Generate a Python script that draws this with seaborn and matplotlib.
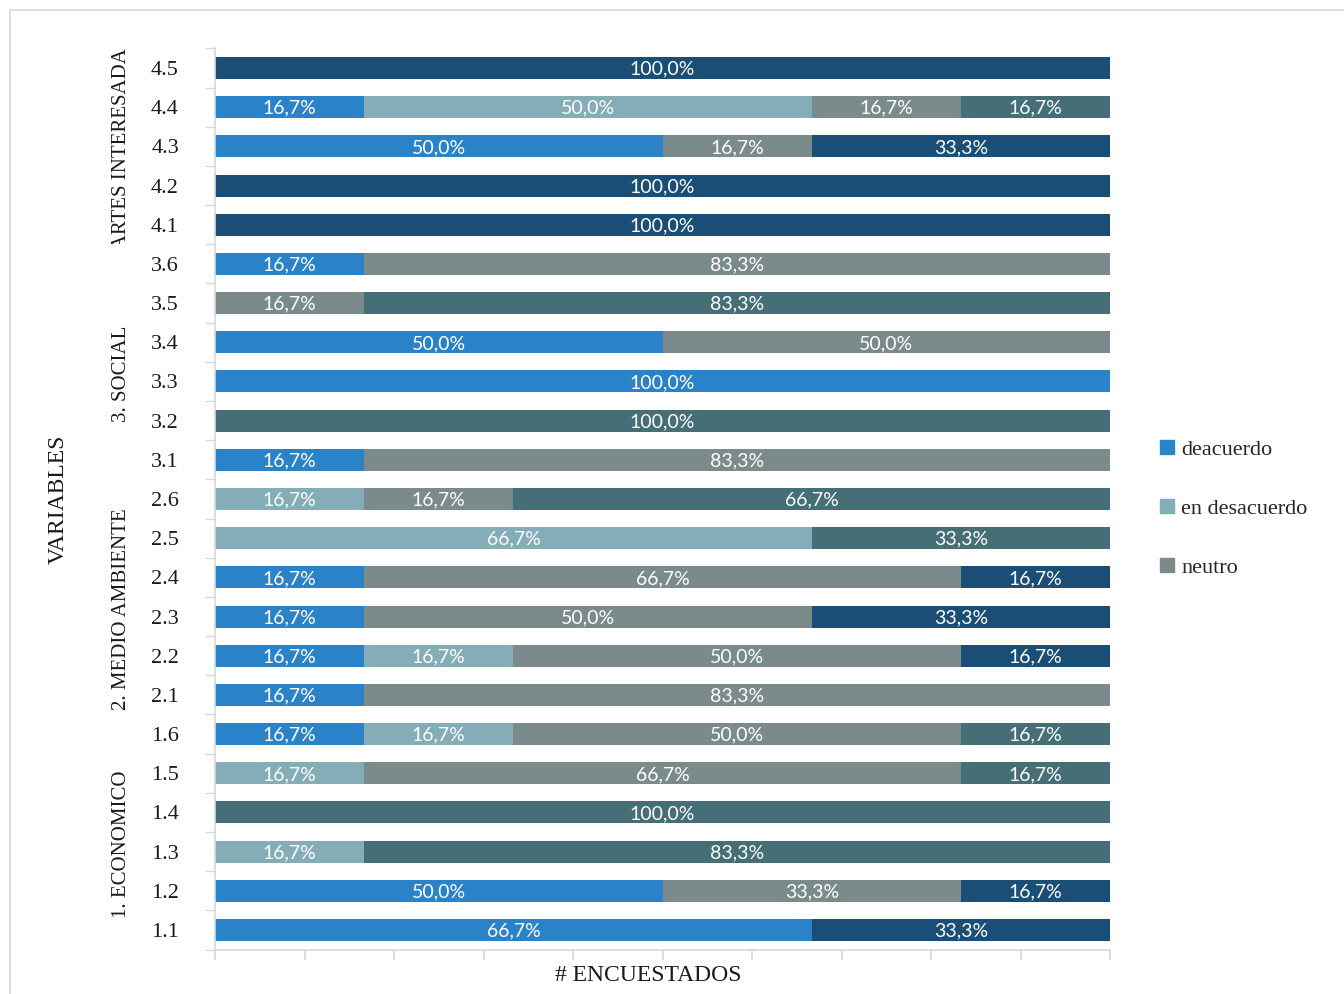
import matplotlib
matplotlib.use("Agg")
import matplotlib.pyplot as plt
import matplotlib.patches as mpatches
from matplotlib.transforms import Bbox, TransformedBbox, blended_transform_factory
import numpy as np
import pandas as pd
import seaborn as sns

# Datos: numero de encuestados (de 6) por respuesta, filas de arriba hacia abajo
variables = ["4.5", "4.4", "4.3", "4.2", "4.1",
             "3.6", "3.5", "3.4", "3.3", "3.2", "3.1",
             "2.6", "2.5", "2.4", "2.3", "2.2", "2.1",
             "1.6", "1.5", "1.4", "1.3", "1.2", "1.1"]
grupos = ["4. PARTES INTERESADAS", "3. SOCIAL", "2. MEDIO AMBIENTE", "1. ECONOMICO"]
filas_grupo = [5, 6, 6, 6]

series = ["deacuerdo", "en desacuerdo", "neutro", "totalmente en desacuerdo", "totalmente deacuerdo"]
deacuerdo = [0, 1, 3, 0, 0, 1, 0, 3, 6, 0, 1, 0, 0, 1, 1, 1, 1, 1, 0, 0, 0, 3, 4]
en_desacuerdo = [0, 3, 0, 0, 0, 0, 0, 0, 0, 0, 0, 1, 4, 0, 0, 1, 0, 1, 1, 0, 1, 0, 0]
neutro = [0, 1, 1, 0, 0, 5, 1, 3, 0, 0, 5, 1, 0, 4, 3, 3, 5, 3, 4, 0, 0, 2, 0]
tot_desacuerdo = [0, 1, 0, 0, 0, 0, 5, 0, 0, 6, 0, 4, 2, 0, 0, 0, 0, 1, 1, 6, 5, 0, 0]
tot_deacuerdo = [6, 0, 2, 6, 6, 0, 0, 0, 0, 0, 0, 0, 0, 1, 2, 1, 0, 0, 0, 0, 0, 1, 2]
colores = ["#2a83c9", "#85adb8", "#7b8b8c", "#456e77", "#1a4e76"]

df = pd.DataFrame({"variable": variables,
                   "deacuerdo": deacuerdo,
                   "en desacuerdo": en_desacuerdo,
                   "neutro": neutro,
                   "totalmente en desacuerdo": tot_desacuerdo,
                   "totalmente deacuerdo": tot_deacuerdo})
total = df[series].sum(axis=1)
pct = df[series].div(total, axis=0)
acum = pct.cumsum(axis=1)

sns.set_theme(style="white")
plt.rcParams["font.family"] = ["Liberation Serif", "DejaVu Serif"]

fig = plt.figure(figsize=(13.44, 9.94), dpi=100)
ax = fig.add_axes([0.16, 0.0447, 0.666, 0.9066])

# barras apiladas: se dibujan las sumas acumuladas de la ultima a la primera
for serie, color in reversed(list(zip(series, colores))):
    sns.barplot(x=acum[serie], y=df["variable"], order=variables, orient="h",
                color=color, saturation=1, width=0.56, errorbar=None,
                linewidth=0, ax=ax)

# etiquetas de porcentaje
for i in range(len(variables)):
    for serie in series:
        v = pct.loc[i, serie]
        if v > 0:
            ax.text(acum.loc[i, serie] - v / 2, i + 0.03,
                    f"{v * 100:.1f}%".replace(".", ","),
                    ha="center", va="center", color="white", fontsize=14,
                    family=["Lato", "DejaVu Sans"], zorder=10)

ax.set_xlim(0, 1)
ax.set_ylim(len(variables) - 0.5, -0.5)
ax.set_xticks(np.arange(0, 1.01, 0.1))
ax.set_xticklabels([])
ax.set_yticks(range(len(variables)))
ax.set_yticks(np.arange(-0.5, len(variables), 1), minor=True)
ax.tick_params(axis="y", which="major", length=0, pad=26, labelsize=16, labelcolor="#1a1a1a")
ax.tick_params(axis="y", which="minor", length=7, color="#d9d9d9", left=True)
ax.tick_params(axis="x", which="major", length=7, color="#d9d9d9", bottom=True)
for lado in ["top", "right"]:
    ax.spines[lado].set_visible(False)
for lado in ["left", "bottom"]:
    ax.spines[lado].set_color("#d9d9d9")
    ax.spines[lado].set_linewidth(1.2)

ax.set_xlabel("# ENCUESTADOS", fontsize=17, color="#1a1a1a")
ax.set_ylabel("VARIABLES", fontsize=17, color="#1a1a1a")
ax.xaxis.set_label_coords(0.484, -0.017)
ax.yaxis.set_label_coords(-0.164, 0.5)

# etiquetas de grupo (recortadas como en Excel)
trans = blended_transform_factory(ax.transAxes, ax.transData)
inicio = 0
for grupo, n in zip(grupos, filas_grupo):
    y0, y1 = inicio - 0.5, inicio + n - 0.5
    t = ax.text(-0.104, (y0 + y1) / 2 + 0.3, grupo, rotation=90, ha="center", va="center",
                fontsize=15, color="#1a1a1a", transform=trans)
    t.set_clip_box(TransformedBbox(Bbox([[-0.2, y0], [-0.02, y1]]), trans))
    t.set_clip_on(True)
    inicio += n

handles = [mpatches.Patch(color=c, label=s) for s, c in zip(series[:3], colores[:3])]
fig.legend(handles=handles, loc="center left", bbox_to_anchor=(0.855, 0.488),
           frameon=False, fontsize=16, handlelength=0.6, handleheight=0.6,
           handletextpad=0.35, labelspacing=1.75, borderpad=0)

# borde del area del grafico
fig.patches.append(mpatches.Rectangle((10 / 1344, -0.05), 1.1, 1.05 - 10 / 994,
                                      transform=fig.transFigure, fill=False,
                                      edgecolor="#d9d9d9", linewidth=1.2))

fig.savefig("out.png", dpi=100)
